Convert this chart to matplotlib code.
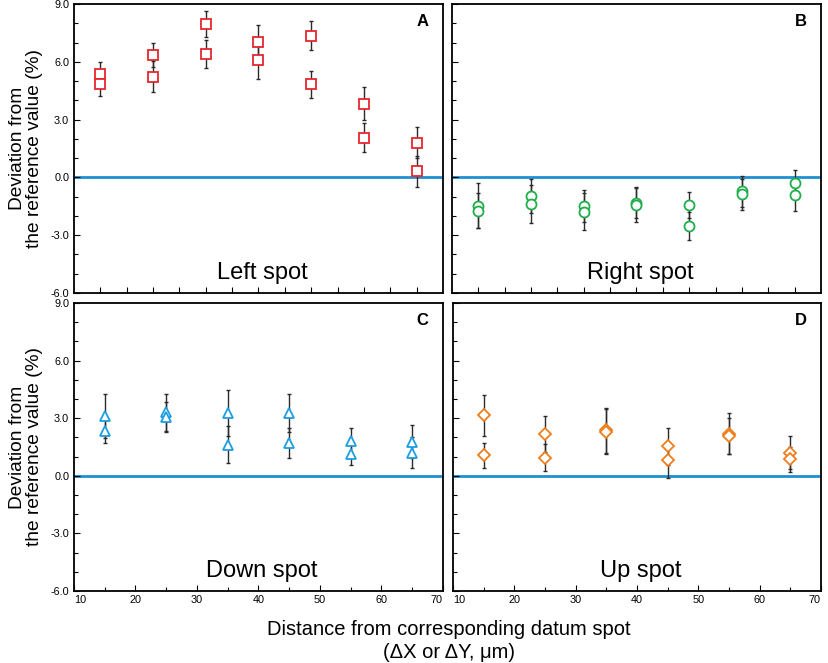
import matplotlib
matplotlib.use("Agg")
import matplotlib.pyplot as plt
import numpy as np

plt.rcParams['font.family'] = ['Liberation Sans', 'DejaVu Sans']

# ---------------- data ----------------
x_lr = [14.3, 22.9, 31.4, 40.0, 48.6, 57.1, 65.7]
x_ud = [15, 25, 35, 45, 55, 65]
top_xticks = [14.3, 18.6, 22.9, 27.1, 31.4, 35.7, 40.0, 44.3, 48.6, 52.9, 57.1, 61.4, 65.7]

left_hi = [5.37, 6.37, 7.96, 7.03, 7.36, 3.82, 1.81]
left_hi_err = [0.63, 0.63, 0.69, 0.87, 0.77, 0.86, 0.78]
left_lo = [4.87, 5.23, 6.41, 6.10, 4.84, 2.06, 0.31]
left_lo_err = [0.62, 0.80, 0.71, 0.97, 0.70, 0.76, 0.79]

right_hi = [-1.47, -0.97, -1.50, -1.33, -1.43, -0.73, -0.29]
right_hi_err = [1.16, 0.88, 0.84, 0.80, 0.67, 0.82, 0.67]
right_lo = [-1.73, -1.38, -1.78, -1.42, -2.52, -0.88, -0.92]
right_lo_err = [0.90, 0.99, 0.95, 0.90, 0.71, 0.81, 0.81]

down_hi = [3.12, 3.31, 3.28, 3.26, 1.80, 1.77]
down_hi_err = [1.13, 0.97, 1.21, 0.99, 0.70, 0.86]
down_lo = [2.32, 3.05, 1.63, 1.72, 1.14, 1.21]
down_lo_err = [0.60, 0.78, 0.94, 0.77, 0.59, 0.79]

up_hi = [3.15, 2.17, 2.36, 1.54, 2.20, 1.21]
up_hi_err = [1.06, 0.93, 1.15, 0.97, 1.08, 0.85]
up_lo = [1.07, 0.94, 2.30, 0.81, 2.08, 0.85]
up_lo_err = [0.65, 0.70, 1.18, 0.93, 0.92, 0.64]

panel_letters = ['A', 'B', 'C', 'D']
panel_names = ['Left spot', 'Right spot', 'Down spot', 'Up spot']
yticks = [-6.0, -3.0, 0.0, 3.0, 6.0, 9.0]
xticks_bottom = [10, 20, 30, 40, 50, 60, 70]
xlabel_lines = ["Distance from corresponding datum spot", "(\u0394X or \u0394Y, \u03bcm)"]

# ---------------- figure ----------------
fig = plt.figure(figsize=(8.29, 6.63), dpi=100)

W, H = 829, 663
def rect(l, t, r, b):
    return [l / W, 1 - b / H, (r - l) / W, (b - t) / H]

axA = fig.add_axes(rect(74, 4, 443, 293))
axB = fig.add_axes(rect(452, 4, 821, 293))
axC = fig.add_axes(rect(74, 303, 443, 591))
axD = fig.add_axes(rect(453, 303, 821, 591))

specs = [
    (axA, x_lr, [(left_hi, left_hi_err), (left_lo, left_lo_err)], 's', '#e8262e', 6.8),
    (axB, x_lr, [(right_hi, right_hi_err), (right_lo, right_lo_err)], 'o', '#1fae4a', 7.2),
    (axC, x_ud, [(down_hi, down_hi_err), (down_lo, down_lo_err)], '^', '#1c9ee0', 7.5),
    (axD, x_ud, [(up_hi, up_hi_err), (up_lo, up_lo_err)], 'D', '#f07d1c', 6.0),
]

for i, (ax, xs, series, mk, col, ms) in enumerate(specs):
    ax.axhline(0, color='#1e8fd2', lw=2.0, zorder=1)
    for vals, errs in series:
        ax.errorbar(xs, vals, yerr=errs, fmt='none', ecolor='#2a2a2a',
                    elinewidth=1.0, capsize=1.6, capthick=1.0, zorder=2)
        ax.plot(xs, vals, linestyle='none', marker=mk, ms=ms, mfc='white',
                mec=col, mew=1.3, zorder=3)
    ax.set_xlim(10, 70)
    ax.set_ylim(-6, 9)
    ax.set_yticks(yticks)
    ax.set_yticks(np.arange(-6, 9.01, 1.0), minor=True)
    for s in ax.spines.values():
        s.set_linewidth(1.3)
    ax.tick_params(which='both', direction='in', top=False, right=False,
                   labelsize=7.8, width=0.8)
    ax.tick_params(which='major', length=4)
    ax.tick_params(which='minor', length=3)
    if i in (0, 2):
        ax.set_yticklabels([f"{v:.1f}" for v in yticks])
        ax.set_ylabel("Deviation from\nthe reference value (%)", fontsize=13.8,
                      labelpad=5, linespacing=1.05)
    else:
        ax.set_yticklabels([])
    if i in (0, 1):
        ax.set_xticks(top_xticks)
        ax.set_xticklabels([])
    else:
        ax.set_xticks(xticks_bottom)
        ax.set_xticks(np.arange(15, 70, 10), minor=True)
        labs = ax.set_xticklabels([str(v) for v in xticks_bottom])
        labs[0].set_ha('left')
        labs[-1].set_ha('right')
        ax.tick_params(axis='x', pad=3)
    ax.text(0.945, 0.94, panel_letters[i], transform=ax.transAxes,
            fontsize=12, fontweight='bold', ha='center', va='center')
    ax.text(0.51, 0.047, panel_names[i], transform=ax.transAxes,
            fontsize=17, ha='center', va='baseline')

fig.text(449 / W, 1 - 635 / H, xlabel_lines[0], fontsize=14.5, ha='center', va='baseline')
fig.text(449 / W, 1 - 658 / H, xlabel_lines[1], fontsize=14.5, ha='center', va='baseline')

fig.savefig("out.png", dpi=100)
